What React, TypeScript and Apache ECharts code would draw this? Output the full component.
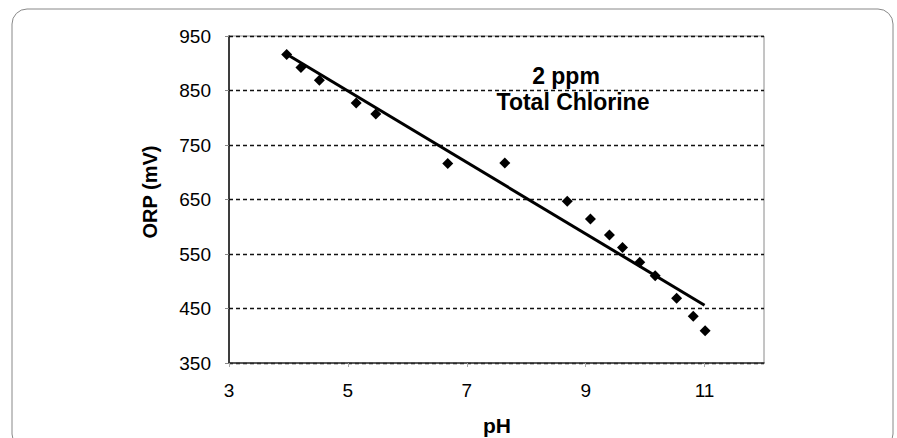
import React, { useEffect, useRef } from "react";
import * as echarts from "echarts";

const phValues = [3.97, 4.21, 4.52, 5.14, 5.47, 6.68, 7.64, 8.69, 9.08, 9.4, 9.62, 9.91, 10.17, 10.53, 10.81, 11.01];
const orpValues = [916, 892, 869, 827, 807, 716, 717, 647, 614, 585, 562, 535, 510, 469, 436, 409];
const trendPh = [3.95, 11.0];
const trendOrp = [918, 456];
const annotationLines = ["2 ppm", "Total Chlorine"];
const xAxisName = "pH";
const yAxisName = "ORP (mV)";

const FONT = "'Liberation Sans', Arial, sans-serif";

export default function App() {
  const ref = useRef<HTMLDivElement>(null);
  useEffect(() => {
    if (!ref.current) return;
    const chart = echarts.init(ref.current, null, { renderer: "svg" });
    chart.setOption({
      animation: false,
      backgroundColor: "#ffffff",
      textStyle: { fontFamily: FONT },
      grid: {
        left: 229,
        right: 133,
        top: 36,
        bottom: 75,
        show: true,
        borderColor: "#8a8a8a",
        borderWidth: 1,
      },
      xAxis: {
        type: "value",
        min: 3,
        max: 12,
        interval: 2,
        axisLine: { show: true, onZero: false, lineStyle: { color: "#333", width: 1.5 } },
        axisTick: { show: true, length: 4, lineStyle: { color: "#aaa" } },
        splitLine: { show: false },
        axisLabel: {
          color: "#000",
          fontSize: 19,
          fontFamily: FONT,
          margin: 18,
          showMaxLabel: false,
        },
      },
      yAxis: {
        type: "value",
        min: 350,
        max: 950,
        interval: 100,
        axisLine: { show: true, lineStyle: { color: "#111", width: 1.5 } },
        axisTick: { show: true, length: 4, lineStyle: { color: "#888" } },
        splitLine: {
          show: true,
          lineStyle: { color: "#111", width: 1.3, type: [4, 3] },
        },
        axisLabel: {
          color: "#000",
          fontSize: 19,
          fontFamily: FONT,
          margin: 18,
        },
      },
      series: [
        {
          type: "line",
          data: trendPh.map((p, i) => [p, trendOrp[i]]),
          showSymbol: false,
          symbol: "none",
          lineStyle: { color: "#000", width: 3 },
          z: 2,
        },
        {
          type: "scatter",
          data: phValues.map((p, i) => [p, orpValues[i]]),
          symbol: "diamond",
          symbolSize: 11,
          itemStyle: { color: "#000", opacity: 1 },
          z: 3,
        },
      ],
      graphic: [
        {
          type: "rect",
          shape: { x: 12, y: 9, width: 881, height: 440, r: 15 },
          style: { fill: "none", stroke: "#888", lineWidth: 1 },
          silent: true,
        },
        {
          type: "text",
          x: 566,
          y: 76,
          style: {
            text: annotationLines[0],
            font: `bold 23px ${FONT}`,
            fill: "#000",
            align: "center",
            verticalAlign: "middle",
          },
        },
        {
          type: "text",
          x: 573,
          y: 102,
          style: {
            text: annotationLines[1],
            font: `bold 23px ${FONT}`,
            fill: "#000",
            align: "center",
            verticalAlign: "middle",
          },
        },
        {
          type: "text",
          x: 497,
          y: 425,
          style: {
            text: xAxisName,
            font: `bold 21px ${FONT}`,
            fill: "#000",
            align: "center",
            verticalAlign: "middle",
          },
        },
        {
          type: "text",
          x: 150,
          y: 192,
          rotation: Math.PI / 2,
          style: {
            text: yAxisName,
            font: `bold 20px ${FONT}`,
            fill: "#000",
            align: "center",
            verticalAlign: "middle",
          },
        },
      ],
    });
    return () => chart.dispose();
  }, []);
  return (
    <div
      ref={ref}
      style={{ position: "fixed", left: 0, top: 0, width: 897, height: 438 }}
    />
  );
}
